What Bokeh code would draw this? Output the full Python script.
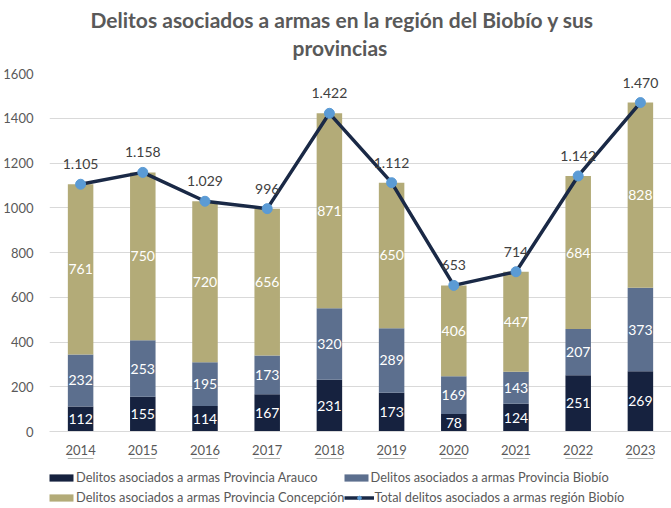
from bokeh.plotting import figure
from bokeh.layouts import column
from bokeh.models import (ColumnDataSource, FactorRange, Range1d, LabelSet, Legend,
                          LegendItem, Title, FixedTicker)
from bokeh.core.properties import value
from bokeh.embed import file_html
from bokeh.resources import INLINE

years = ["2014", "2015", "2016", "2017", "2018", "2019", "2020", "2021", "2022", "2023"]
arauco = [112, 155, 114, 167, 231, 173, 78, 124, 251, 269]
biobio = [232, 253, 195, 173, 320, 289, 169, 143, 207, 373]
concepcion = [761, 750, 720, 656, 871, 650, 406, 447, 684, 828]
total = [1105, 1158, 1029, 996, 1422, 1112, 653, 714, 1142, 1470]
series_names = [
    "Delitos asociados a armas Provincia Arauco",
    "Delitos asociados a armas Provincia Biobío",
    "Delitos asociados a armas Provincia Concepción",
    "Total delitos asociados a armas región Biobío",
]
title_lines = ["Delitos asociados a armas en la región del Biobío y sus", "provincias"]
y_ticks = [0, 200, 400, 600, 800, 1000, 1200, 1400, 1600]

colors = ["#16223f", "#5c6f8e", "#b3ab78"]
line_color = "#1a2946"
marker_color = "#5b9bd5"
FONT = "Lato"
GRAY = "#595959"

def fmt(v):
    return f"{v:,}".replace(",", ".")

src = ColumnDataSource(dict(
    year=years, arauco=arauco, biobio=biobio, concepcion=concepcion, total=total,
    total_lbl=[fmt(v) for v in total],
    a_mid=[a / 2 for a in arauco],
    b_mid=[a + b / 2 for a, b in zip(arauco, biobio)],
    c_mid=[a + b + c / 2 for a, b, c in zip(arauco, biobio, concepcion)],
    a_lbl=[str(v) for v in arauco],
    b_lbl=[str(v) for v in biobio],
    c_lbl=[str(v) for v in concepcion],
))

xr = FactorRange(*years)
p = figure(x_range=xr, y_range=Range1d(0, 1600),
           width=671, height=458, output_backend="svg", toolbar_location=None,
           min_border_left=48, min_border_right=0, min_border_top=73, min_border_bottom=27)
p.outline_line_color = None
p.background_fill_color = "white"

bars = p.vbar_stack(["arauco", "biobio", "concepcion"], x="year", width=0.41,
                    color=colors, line_color=None, source=src)
ln = p.line(x="year", y="total", line_width=3.5, line_color=line_color, source=src)
mk = p.scatter(x="year", y="total", size=10, fill_color=marker_color,
               line_color=marker_color, source=src)

for ycol, tcol in [("a_mid", "a_lbl"), ("b_mid", "b_lbl"), ("c_mid", "c_lbl")]:
    p.add_layout(LabelSet(x="year", y=ycol, text=tcol, source=src, text_color="white",
                          text_font=value(FONT), text_font_size="14px", text_align="center",
                          text_baseline="middle"))
p.add_layout(LabelSet(x="year", y="total", text="total_lbl", source=src, text_color="#404040",
                      text_font=value(FONT), text_font_size="14px", text_align="center",
                      text_baseline="middle", y_offset=20))

p.xgrid.grid_line_color = None
p.ygrid.grid_line_color = "#d9d9d9"
p.ygrid.ticker = FixedTicker(ticks=y_ticks)
p.yaxis.ticker = FixedTicker(ticks=y_ticks)
p.yaxis.axis_line_color = None
p.yaxis.major_tick_line_color = None
p.yaxis.minor_tick_line_color = None
p.yaxis.major_label_text_font = FONT
p.yaxis.major_label_text_font_size = "13px"
p.yaxis.major_label_text_color = GRAY
p.yaxis.major_label_standoff = 10
p.xaxis.axis_line_color = "#d9d9d9"
p.xaxis.major_tick_line_color = None
p.xaxis.major_label_text_font = FONT
p.xaxis.major_label_text_font_size = "13px"
p.xaxis.major_label_text_color = GRAY
p.xaxis.major_label_standoff = 7

t2 = Title(text=title_lines[1], align="left", text_font=FONT, text_font_size="21px",
           text_font_style="bold", text_color=GRAY, standoff=28, offset=243)
t1 = Title(text=title_lines[0], align="left", text_font=FONT, text_font_size="21px",
           text_font_style="bold", text_color=GRAY, standoff=-27, offset=41)
p.add_layout(t2, "above")
p.add_layout(t1, "above")

# legend strip under the chart: same data, drawn outside its visible y-range
q = figure(width=671, height=50, x_range=xr, y_range=Range1d(-2, -1), output_backend="svg",
           toolbar_location=None, x_axis_type=None, y_axis_type=None,
           min_border_left=0, min_border_right=0, min_border_top=0, min_border_bottom=0)
q.outline_line_color = None
q.grid.visible = False
lg = q.vbar_stack(["arauco", "biobio", "concepcion"], x="year", width=0.41,
                  color=colors, line_color=None, source=src)
lg_line = q.line(x="year", y="total", line_width=3.5, line_color=line_color, source=src)
lg_mark = q.scatter(x="year", y="total", size=9, fill_color=marker_color,
                    line_color=marker_color, source=src)

common = dict(orientation="horizontal", margin=0, padding=0, label_height=16,
              glyph_height=9, glyph_width=30, label_standoff=0, border_line_color=None,
              background_fill_alpha=0, label_text_font=FONT, label_text_font_size="12.8px",
              label_text_color=GRAY)
leg1 = Legend(items=[LegendItem(label=series_names[0], renderers=[lg[0]]),
                     LegendItem(label=series_names[1], renderers=[lg[1]])],
              spacing=23, location=(-3, 23), **common)
leg2 = Legend(items=[LegendItem(label=series_names[2], renderers=[lg[2]]),
                     LegendItem(label=series_names[3], renderers=[lg_line, lg_mark])],
              spacing=0, location=(-3, 3), **common)
q.add_layout(leg1, "center")
q.add_layout(leg2, "center")

layout = column(p, q, spacing=0)
open("out.html", "w").write(file_html(layout, INLINE))
